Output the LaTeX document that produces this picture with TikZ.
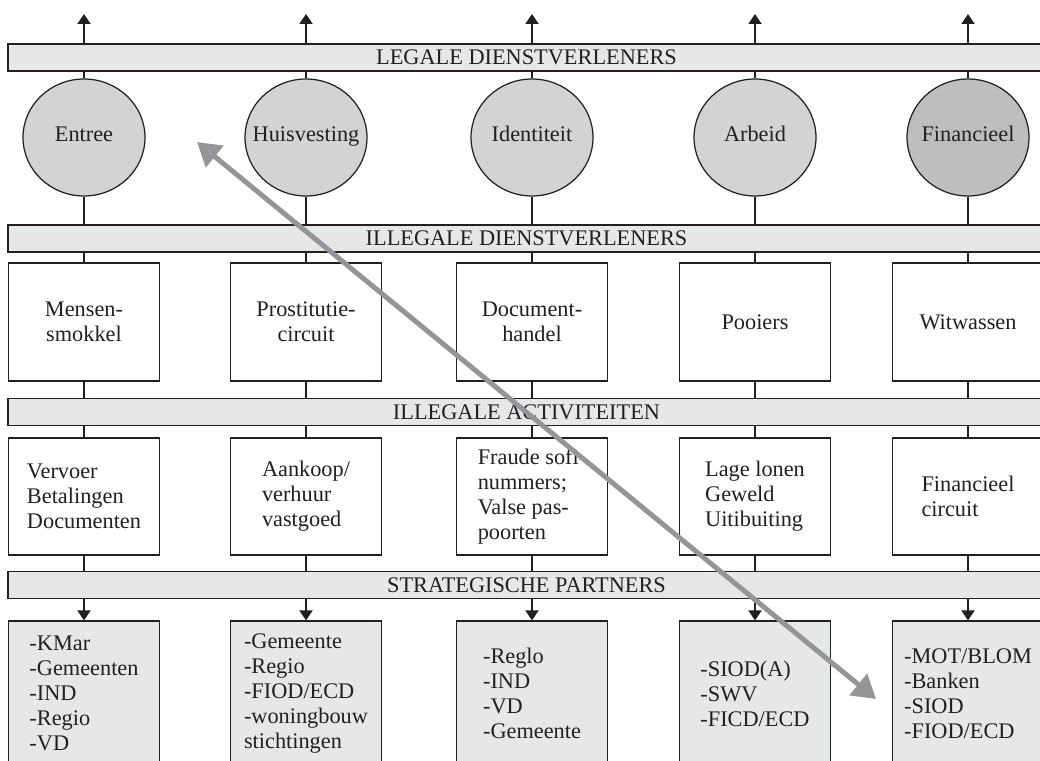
\documentclass[tikz,border=0pt]{standalone}
\usepackage{fontspec}
\setmainfont{Liberation Serif}
\usetikzlibrary{arrows.meta, shapes.geometric}

\definecolor{ink}{HTML}{231F20}
\definecolor{barfill}{HTML}{E6E7E8}
\definecolor{domfill}{HTML}{D1D3D4}
\definecolor{findark}{HTML}{BCBEC0}
\definecolor{arrowgrey}{HTML}{939598}

\tikzset{
  every node/.style={font=\fontsize{12.7}{14.2}\selectfont, text=ink},
  barbox/.style={draw=ink, fill=barfill, line width=0.7pt, inner sep=0pt,
    minimum width=20.74cm, minimum height=0.54cm},
  domcircle/.style={ellipse, draw=ink, fill=domfill, line width=0.7pt,
    inner xsep=-1cm, inner ysep=0pt, text height=0.68em, text depth=0.22em,
    minimum width=2.44cm, minimum height=2.34cm},
  servicebox/.style={draw=ink, fill=white, line width=0.7pt, align=center,
    minimum width=3.02cm, minimum height=2.36cm},
  actbox/.style={servicebox, align=left, minimum height=2.34cm},
  partnerbox/.style={servicebox, fill=barfill, align=left, minimum height=2.9cm},
  linkline/.style={draw=ink, line width=1.1pt},
  smalltip/.style={-{Triangle[length=0.2cm, width=0.26cm]}},
  bigarrow/.style={draw=arrowgrey, line width=0.1cm,
    {Triangle[length=0.46cm, width=0.54cm]}-{Triangle[length=0.46cm, width=0.54cm]}}
}

\begin{document}
\begin{tikzpicture}[x=0.02cm, y=-0.02cm]
\useasboundingbox (0,0) rectangle (1040,760);
\clip (0,0) rectangle (1040,760);

% Bars across the columns
\node[barbox] (legal) at (526.5,57.5) {LEGALE DIENSTVERLENERS};
\node[barbox] (illdienst) at (526.5,238.5) {ILLEGALE DIENSTVERLENERS};
\node[barbox] (illact) at (526.5,412) {ILLEGALE ACTIVITEITEN};
\node[barbox] (partners) at (526.5,585) {STRATEGISCHE PARTNERS};

% Domains
\node[domcircle] (entree) at (84,137.5) {Entree};
\node[domcircle] (huis) at (306,137.5) {Huisvesting};
\node[domcircle] (ident) at (532,137.5) {Identiteit};
\node[domcircle] (arbeid) at (755,137.5) {Arbeid};
\node[domcircle, fill=findark] (fin) at (968,137.5) {Financieel};

% Illegal service providers
\node[servicebox] (smokkel) at (84,322) {Mensen-\\smokkel};
\node[servicebox] (prost) at (306,322) {Prostitutie-\\circuit};
\node[servicebox] (dochandel) at (532,322) {Document-\\handel};
\node[servicebox] (pooiers) at (755,322) {Pooiers};
\node[servicebox] (witwas) at (968,322) {Witwassen};

% Illegal activities
\node[actbox] (vervoer) at (84,496.5) {Vervoer\\Betalingen\\Documenten};
\node[actbox] (vastgoed) at (306,496.5) {Aankoop/\\verhuur\\vastgoed};
\node[actbox] (fraude) at (532,496.5) {Fraude sofi-\\nummers;\\Valse pas-\\poorten};
\node[actbox] (lonen) at (755,496.5) {Lage lonen\\Geweld\\Uitibuiting};
\node[actbox] (fincirc) at (968,496.5) {Financieel\\circuit};

% Strategic partners
\node[partnerbox] (kmar) at (84,693.5) {-KMar\\-Gemeenten\\-IND\\-Regio\\-VD};
\node[partnerbox] (gemeente) at (306,693.5) {-Gemeente\\-Regio\\-FIOD/ECD\\-woningbouw\\stichtingen};
\node[partnerbox] (reglo) at (532,693.5) {-Reglo\\-IND\\-VD\\-Gemeente};
\node[partnerbox] (siod) at (755,693.5) {-SIOD(A)\\-SWV\\-FICD/ECD};
\node[partnerbox] (mot) at (968,693.5) {-MOT/BLOM\\-Banken\\-SIOD\\-FIOD/ECD};

% Column lines
\coordinate (tops) at (0,14);
\foreach \c/\s/\a/\p in {entree/smokkel/vervoer/kmar, huis/prost/vastgoed/gemeente,
    ident/dochandel/fraude/reglo, arbeid/pooiers/lonen/siod, fin/witwas/fincirc/mot}{
  \coordinate (\c-top) at (\c |- tops);
  \draw[linkline, smalltip] (legal.north -| \c) -- (\c-top);
  \draw[linkline] (legal.south -| \c) -- (\c.north);
  \draw[linkline] (\c.south) -- (illdienst.north -| \c);
  \draw[linkline] (illdienst.south -| \s) -- (\s.north);
  \draw[linkline] (\s.south) -- (illact.north -| \s);
  \draw[linkline] (illact.south -| \a) -- (\a.north);
  \draw[linkline] (\a.south) -- (partners.north -| \a);
  \draw[linkline, smalltip] (partners.south -| \p) -- (\p.north);
}

% Grey double arrow on top
\coordinate (upend) at (197,142);
\coordinate (downend) at (876,699);
\draw[bigarrow] (upend) -- (downend);

\end{tikzpicture}
\end{document}
